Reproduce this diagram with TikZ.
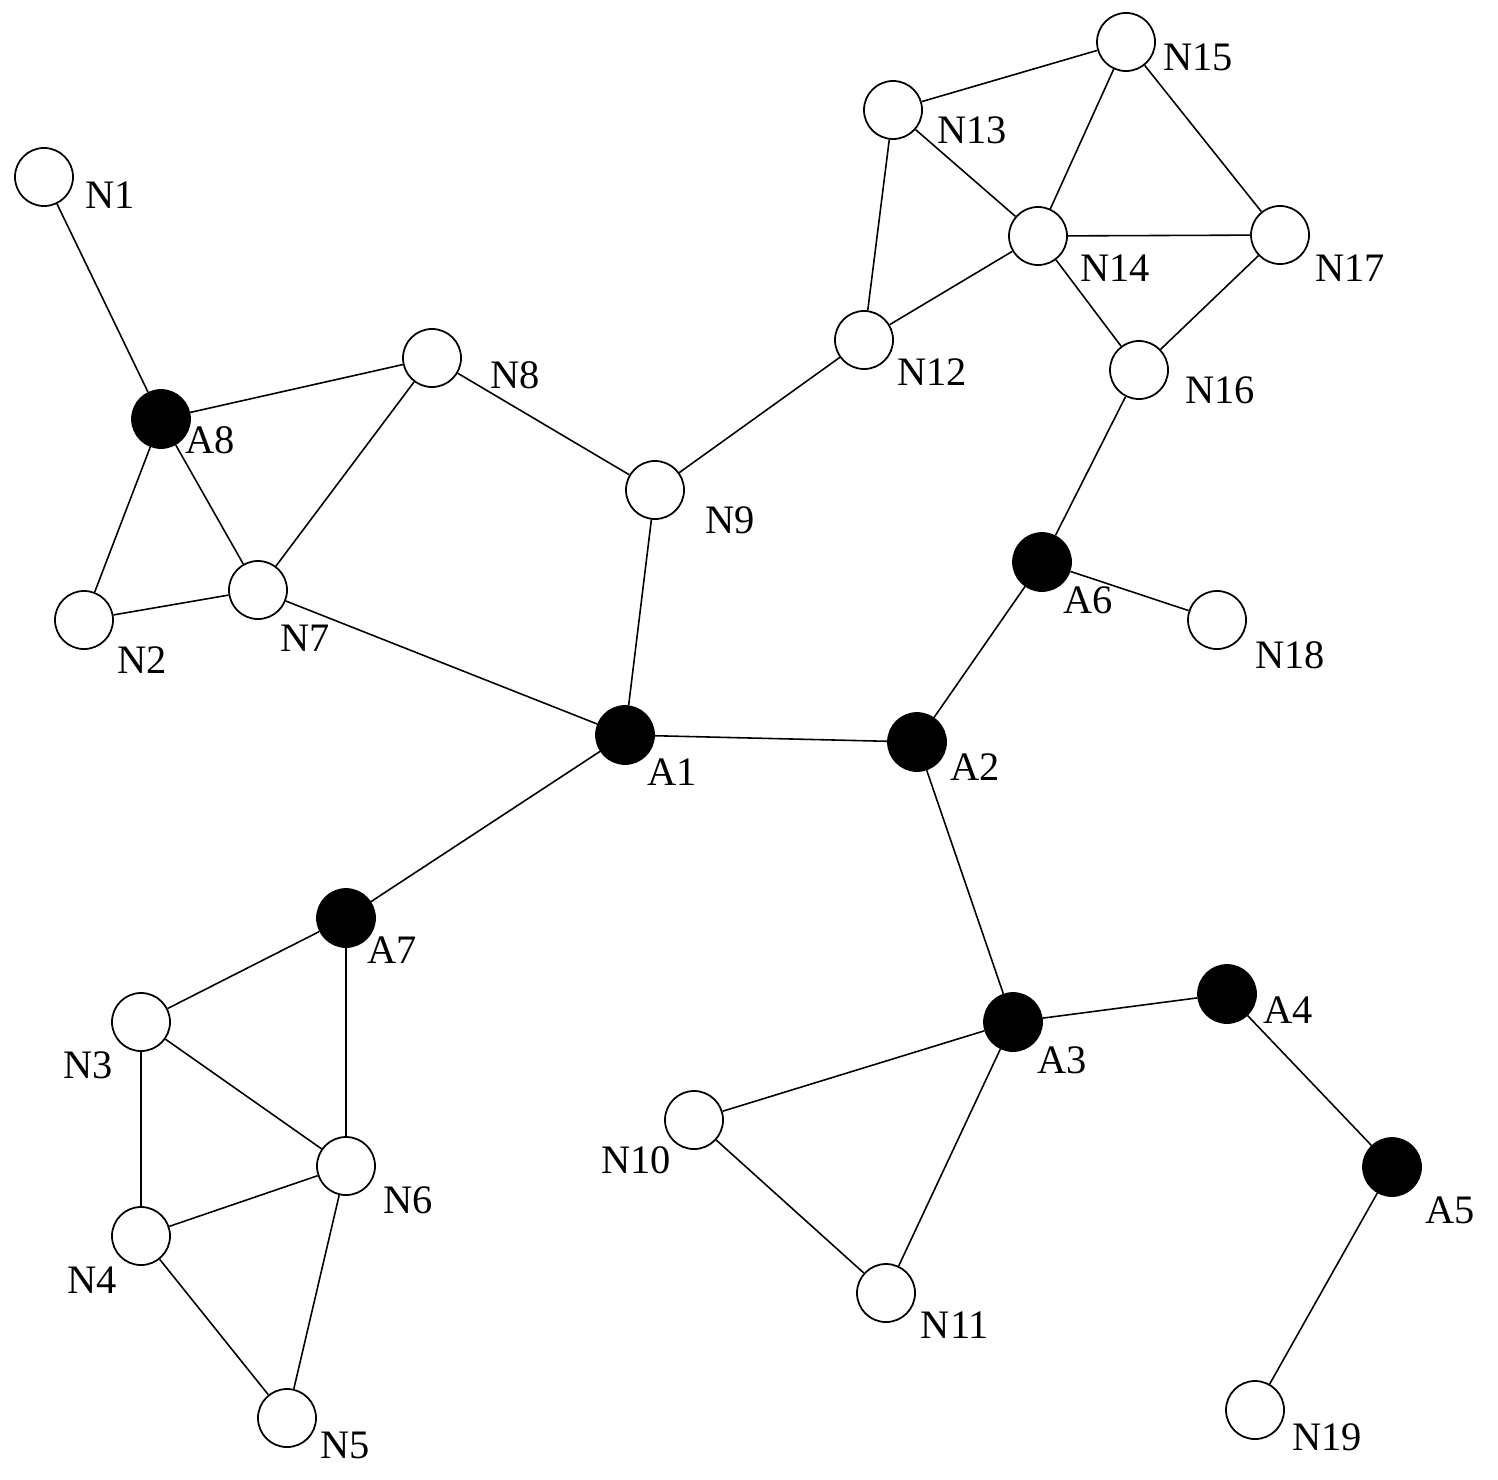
\documentclass[tikz,border=0pt]{standalone}
\usepackage{fontspec}
\setmainfont{Liberation Serif}
\begin{document}
\begin{tikzpicture}[x=0.01cm,y=-0.01cm,
  w/.style={circle,draw,line width=0.5pt,fill=white,minimum size=0.58cm,inner sep=0pt},
  b/.style={w,fill=black},
  lab/.style={font=\fontsize{11.5}{12}\selectfont,inner sep=0pt},
  e/.style={line width=0.45pt}]
\useasboundingbox (0,0) rectangle (1498,1479);
\foreach \n/\x/\y/\s/\lx/\ly in {N1/44/177/w/110/195, A8/161/419/b/210/440, N8/432/358/w/515/375,
 N2/84/620/w/142/660, N7/258/590/w/305/638, N9/655/490/w/730/520, A1/625/735/b/672/772,
 A2/917/742/b/975/767, N12/864/340/w/932/372, N13/893/110/w/972/130, N15/1126/42/w/1198/57,
 N14/1038/236/w/1115/268, N17/1280/235/w/1350/268, N16/1139/370/w/1220/390, A6/1042/562/b/1088/600,
 N18/1217/620/w/1290/655, A7/346/918/b/392/950, N3/141/1022/w/88/1065, N6/346/1166/w/408/1200,
 N4/141/1236/w/92/1280, N5/287/1418/w/345/1445, A3/1013/1022/b/1062/1060, A4/1227/994/b/1288/1010,
 A5/1392/1167/b/1450/1210, N10/694/1120/w/636/1160, N11/886/1293/w/955/1325, N19/1255/1410/w/1327/1437}
{ \node[\s] (\n) at (\x,\y) {}; \node[lab] (l\n) at (\lx,\ly) {\n}; }
\begin{scope}[on background layer/.try]
\end{scope}
\foreach \a/\b in {N1/A8, A8/N8, A8/N2, A8/N7, N2/N7, N7/N8, N8/N9, N7/A1, N9/A1, N9/N12,
 N12/N13, N12/N14, N13/N15, N13/N14, N15/N14, N15/N17, N14/N17, N14/N16, N17/N16, N16/A6,
 A6/N18, A6/A2, A1/A2, A1/A7, A7/N3, A7/N6, N3/N6, N3/N4, N4/N6, N4/N5, N6/N5, A2/A3,
 A3/A4, A4/A5, A5/N19, A3/N10, A3/N11, N10/N11}
{ \draw[e] (\a) -- (\b); }
\end{tikzpicture}
\end{document}
